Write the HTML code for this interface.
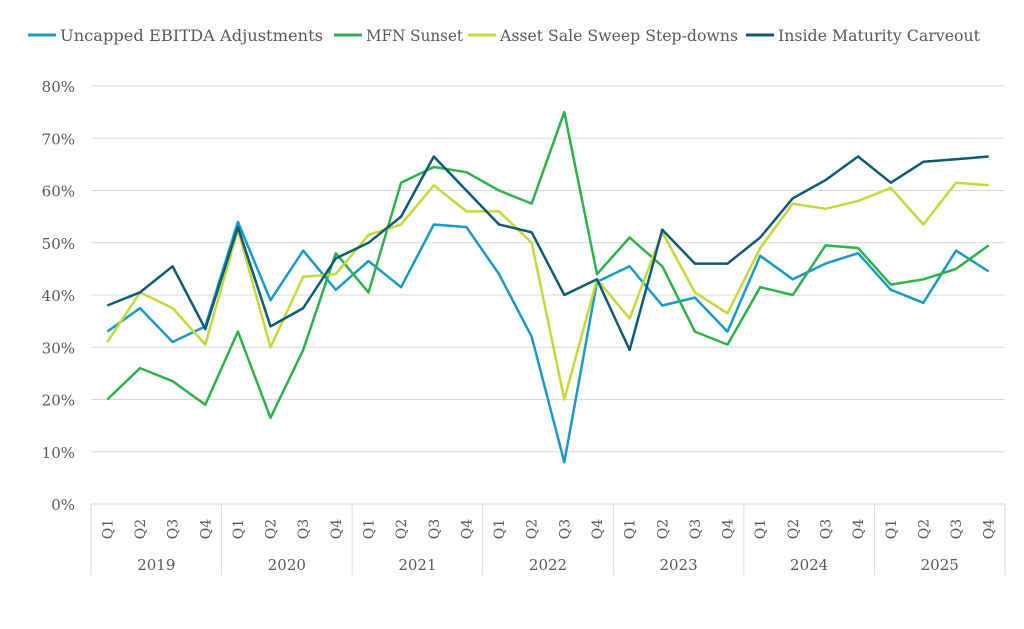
<!DOCTYPE html>
<html><head><meta charset="utf-8"><style>
html,body{margin:0;padding:0;background:#fff;}
svg text{font-family:"DejaVu Serif","Liberation Serif",serif;fill:#595959;}
</style></head><body>
<svg width="1024" height="624" viewBox="0 0 1024 624" xmlns="http://www.w3.org/2000/svg">
<g id="grid" stroke="#d9d9d9" stroke-width="1"></g>
<g id="ylab" font-size="15" text-anchor="end"></g>
<g id="xlab" font-size="14"></g>
<g id="series" fill="none" stroke-width="2.5" stroke-linejoin="round"></g>
<g font-size="16">
<line x1="28" y1="35" x2="56" y2="35" stroke="#1a9ac9" stroke-width="3"/><text x="60" y="41" textLength="263" lengthAdjust="spacingAndGlyphs">Uncapped EBITDA Adjustments</text>
<line x1="334" y1="35" x2="362" y2="35" stroke="#2db34a" stroke-width="3"/><text x="366" y="41" textLength="97" lengthAdjust="spacingAndGlyphs">MFN Sunset</text>
<line x1="468" y1="35" x2="496" y2="35" stroke="#c5d93a" stroke-width="3"/><text x="500" y="41" textLength="238" lengthAdjust="spacingAndGlyphs">Asset Sale Sweep Step-downs</text>
<line x1="746" y1="35" x2="774" y2="35" stroke="#0d5c75" stroke-width="3"/><text x="778" y="41" textLength="202" lengthAdjust="spacingAndGlyphs">Inside Maturity Carveout</text>
</g>
</svg>
<script>
const NS="http://www.w3.org/2000/svg";
function el(p,t,a,txt){const e=document.createElementNS(NS,t);for(const k in a)e.setAttribute(k,a[k]);if(txt!==undefined)e.textContent=txt;document.getElementById(p).appendChild(e);}
const y0=504,py=5.225,x0=91,x1=1005,step=(x1-x0)/28;
for(let v=0;v<=80;v+=10){const y=y0-v*py;el('grid','line',{x1:x0,x2:x1,y1:y,y2:y});el('ylab','text',{x:75,y:y+6},v+'%');}
for(let i=0;i<=7;i++){const x=x0+i*4*step;el('grid','line',{x1:x,x2:x,y1:y0,y2:575});}
for(let i=0;i<28;i++){const x=x0+(i+0.5)*step+5,y=529;el('xlab','text',{x:x,y:y,'text-anchor':'middle',transform:`rotate(-90 ${x} ${y})`},'Q'+(i%4+1));}
for(let i=0;i<7;i++){el('xlab','text',{x:x0+(i*4+2)*step,y:570,'text-anchor':'middle','font-size':15},2019+i);}
const data={
'#1a9ac9':[33,37.5,31,34,54,39,48.5,41,46.5,41.5,53.5,53,44,32,8,42.5,45.5,38,39.5,33,47.5,43,46,48,41,38.5,48.5,44.5],
'#2db34a':[20,26,23.5,19,33,16.5,29.5,48,40.5,61.5,64.5,63.5,60,57.5,75,44,51,45.5,33,30.5,41.5,40,49.5,49,42,43,45,49.5],
'#c5d93a':[31,40.5,37.5,30.5,52.5,30,43.5,44,51.5,53.5,61,56,56,50,20,43,35.5,52,40.5,36.5,49,57.5,56.5,58,60.5,53.5,61.5,61],
'#0d5c75':[38,40.5,45.5,33.5,53,34,37.5,47,50,55,66.5,60,53.5,52,40,43,29.5,52.5,46,46,51,58.5,62,66.5,61.5,65.5,66,66.5]};
for(const c in data){el('series','polyline',{stroke:c,points:data[c].map((v,i)=>`${(x0+(i+0.5)*step).toFixed(1)},${(y0-v*py).toFixed(1)}`).join(' ')});}
</script>
</body></html>
